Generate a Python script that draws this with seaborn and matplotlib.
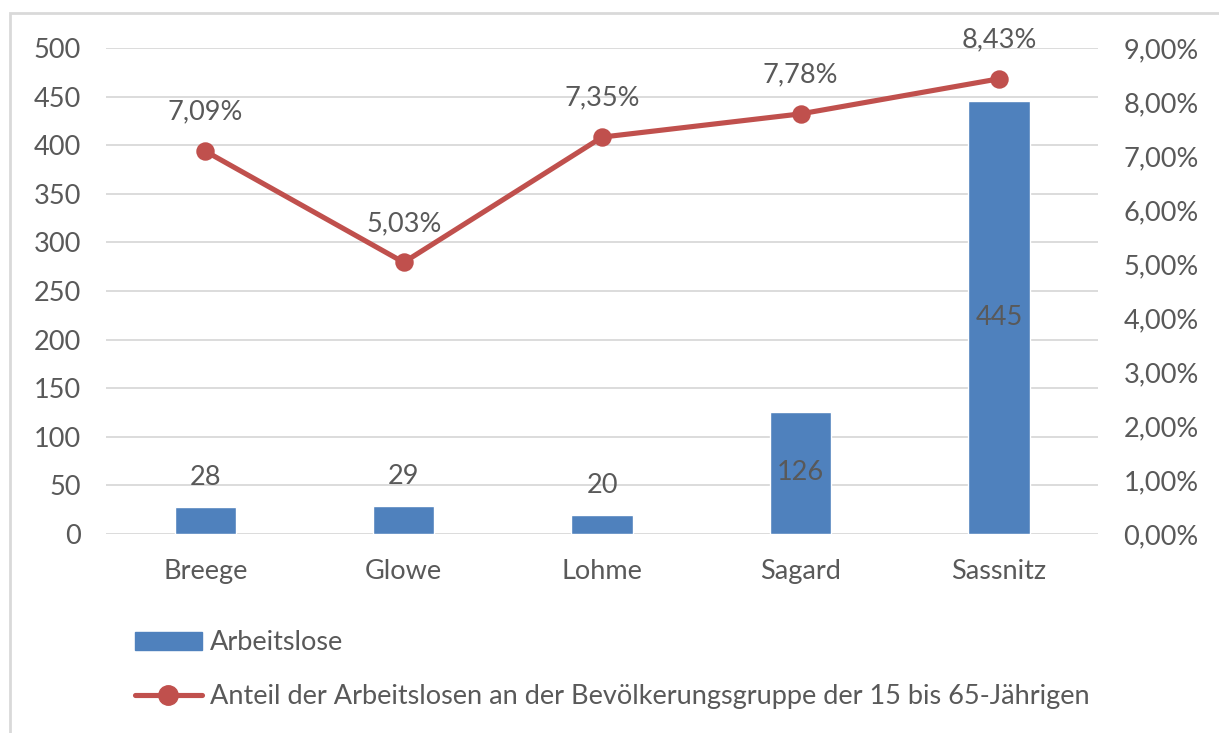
import matplotlib
matplotlib.use("Agg")
import matplotlib.pyplot as plt
import seaborn as sns
from matplotlib.patches import Patch, Rectangle
from matplotlib.lines import Line2D
from matplotlib.ticker import FuncFormatter

# data
orte = ["Breege", "Glowe", "Lohme", "Sagard", "Sassnitz"]
arbeitslose = [28, 29, 20, 126, 445]
anteil = [7.09, 5.03, 7.35, 7.78, 8.43]  # in %

bar_col = "#4F81BD"
line_col = "#C0504D"
txt_col = "#595959"
grid_col = "#D9D9D9"
fs = 19.5

sns.set_theme(style="white")
plt.rcParams['font.family'] = ['Lato', 'DejaVu Sans']

fig = plt.figure(figsize=(12.19, 7.33), dpi=100)
ax = fig.add_axes([0.087, 0.2715, 0.814, 0.663])

# frame round the chart
fig.patches.append(Rectangle((10 / 1219, -0.1), 1.2, 1 - 13 / 733 + 0.1,
                             transform=fig.transFigure, fill=False,
                             edgecolor="#D9D9D9", lw=2))

sns.barplot(x=orte, y=arbeitslose, ax=ax, color=bar_col, width=0.31,
            saturation=1, zorder=2)
ax.set_ylim(0, 500)
ax.set_yticks(range(0, 501, 50))
ax.grid(axis="y", color=grid_col, lw=1.3, zorder=0)
ax.set_axisbelow(True)
for s in ax.spines.values():
    s.set_visible(False)
ax.tick_params(axis="y", length=0, pad=18, labelsize=fs, labelcolor=txt_col)
ax.tick_params(axis="x", length=0, pad=18, labelsize=fs, labelcolor=txt_col)

# bar labels: inside for tall bars, above for small ones
for i, v in enumerate(arbeitslose):
    if v > 100:
        ax.text(i, v / 2, str(v), ha="center", va="center", fontsize=fs, color=txt_col)
    else:
        ax.text(i, v + 17, str(v), ha="center", va="bottom", fontsize=fs, color=txt_col)

ax2 = ax.twinx()
sns.pointplot(x=orte, y=anteil, ax=ax2, color=line_col, markers="o",
              markersize=10.5, linewidth=3.7)
ax2.set_ylim(0, 9)
ax2.set_yticks(range(0, 10))
ax2.yaxis.set_major_formatter(FuncFormatter(lambda v, p: f"{v:.2f}%".replace(".", ",")))
ax2.tick_params(axis="y", length=0, pad=18, labelsize=fs, labelcolor=txt_col)
ax2.grid(False)
ax2.set_ylabel("")
for s in ax2.spines.values():
    s.set_visible(False)
for i, v in enumerate(anteil):
    ax2.annotate(f"{v:.2f}%".replace(".", ","), (i, v), xytext=(0, 19),
                 textcoords="offset points", ha="center", va="bottom",
                 fontsize=fs, color=txt_col)
ax.set_xlim(-0.5, len(orte) - 0.5)

handles = [Patch(facecolor=bar_col, edgecolor=bar_col),
           Line2D([0], [0], color=line_col, lw=3.7, marker="o", markersize=14)]
labels = ["Arbeitslose",
          "Anteil der Arbeitslosen an der Bevölkerungsgruppe der 15 bis 65-Jährigen"]
leg = fig.legend(handles, labels, loc="upper left", bbox_to_anchor=(0.111, 0.140),
                 frameon=False, fontsize=fs, handlelength=2.45, handleheight=0.65,
                 handletextpad=0.3, labelspacing=1.05, borderpad=0, borderaxespad=0)
for t in leg.get_texts():
    t.set_color(txt_col)

fig.savefig("out.png", dpi=100)
